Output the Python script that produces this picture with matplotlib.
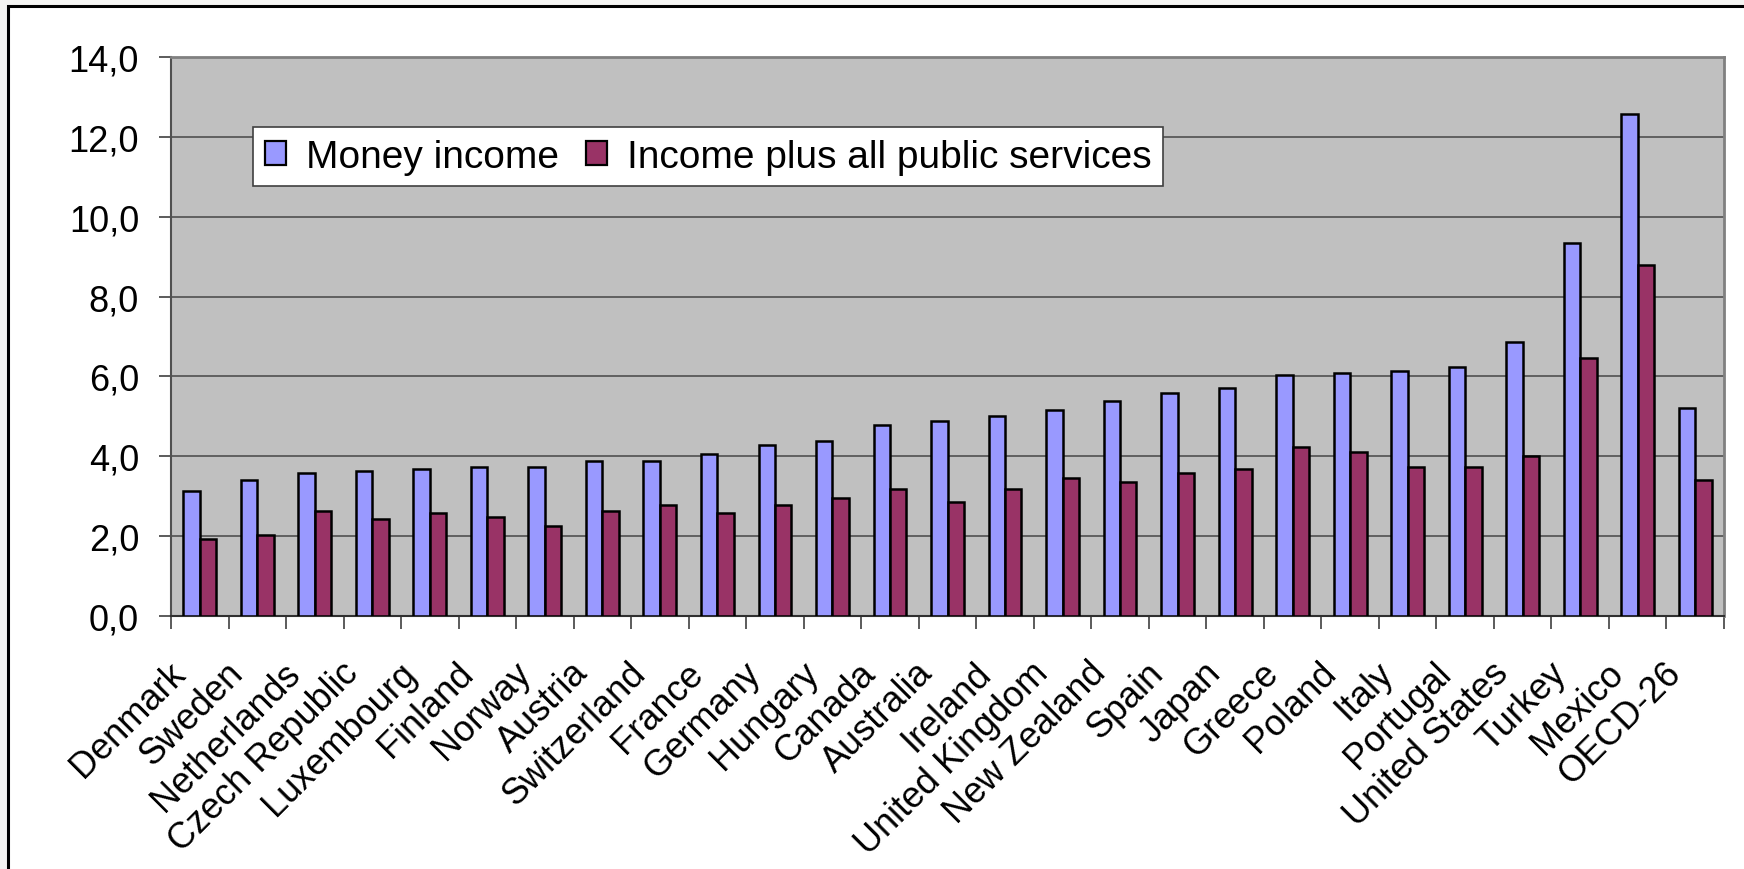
import numpy as np
import matplotlib
matplotlib.use("Agg")
import matplotlib.pyplot as plt
from matplotlib.patches import Rectangle, Patch
from matplotlib.transforms import ScaledTranslation

plt.rcParams["font.family"] = ["Liberation Sans", "DejaVu Sans"]

# Inégalités de revenu par pays (ratio), revenu monétaire vs revenu + services publics
countries = ["Denmark", "Sweden", "Netherlands", "Czech Republic", "Luxembourg",
             "Finland", "Norway", "Austria", "Switzerland", "France", "Germany",
             "Hungary", "Canada", "Australia", "Ireland", "United Kingdom",
             "New Zealand", "Spain", "Japan", "Greece", "Poland", "Italy",
             "Portugal", "United States", "Turkey", "Mexico", "OECD-26"]
money_income = [3.13, 3.40, 3.58, 3.63, 3.68, 3.73, 3.73, 3.89, 3.89, 4.06, 4.28,
                4.38, 4.78, 4.88, 5.00, 5.16, 5.38, 5.59, 5.71, 6.03, 6.08, 6.14,
                6.24, 6.85, 9.33, 12.56, 5.21]
income_plus_services = [1.92, 2.03, 2.64, 2.43, 2.58, 2.47, 2.25, 2.64, 2.79, 2.58,
                        2.79, 2.96, 3.18, 2.85, 3.18, 3.46, 3.35, 3.57, 3.67, 4.23,
                        4.11, 3.73, 3.73, 4.00, 6.47, 8.78, 3.40]
y_ticks = [0, 2, 4, 6, 8, 10, 12, 14]

W, H = 1744, 870
fig = plt.figure(figsize=(W / 100, H / 100), dpi=100)
fig.patch.set_facecolor("#f4f4f2")

# cadre blanc autour du graphique
fig.add_artist(Rectangle((8 / W, -0.1), 1.2, 1 - 7 / H + 0.1, transform=fig.transFigure,
                         facecolor="white", edgecolor="black", linewidth=2.2, zorder=-1))

ax = fig.add_axes([171 / W, 1 - 617 / H, (1724 - 171) / W, (617 - 58) / H])
ax.set_facecolor("#c0c0c0")

x = np.arange(len(countries))
w = 1 / 3.5
ax.bar(x - w / 2, money_income, w, color="#9999ff", edgecolor="black", linewidth=1.8, zorder=3)
ax.bar(x + w / 2, income_plus_services, w, color="#993366", edgecolor="black", linewidth=1.8, zorder=3)

ax.set_xlim(-0.5, len(countries) - 0.5)
ax.set_ylim(0, 14)

ax.set_yticks(y_ticks)
ax.set_yticklabels([f"{v:.1f}".replace(".", ",") for v in y_ticks], fontsize=26)
ax.yaxis.grid(True, color="#606060", linewidth=1.4, zorder=1)
ax.set_axisbelow(True)
ax.tick_params(axis="y", length=9, width=1.2, color="#404040", pad=14)

ax.set_xticks(x)
ax.set_xticklabels(countries, fontsize=26, rotation=45, ha="right", va="top",
                   rotation_mode="anchor")
ax.set_xticks(np.arange(len(countries) + 1) - 0.5, minor=True)
ax.tick_params(axis="x", which="major", length=0, pad=28)
ax.tick_params(axis="x", which="minor", length=9, width=1.2, color="#404040")
shift = ScaledTranslation(-32 / 100, 0, fig.dpi_scale_trans)
for lab in ax.get_xticklabels():
    lab.set_transform(lab.get_transform() + shift)

for side in ["top", "right"]:
    ax.spines[side].set_color("#808080")
    ax.spines[side].set_linewidth(2)
ax.spines["left"].set_color("#505050")
ax.spines["left"].set_linewidth(1.5)
ax.spines["bottom"].set_color("#303030")
ax.spines["bottom"].set_linewidth(1.5)

handles = [Patch(facecolor="#9999ff", edgecolor="black", linewidth=1.6),
           Patch(facecolor="#993366", edgecolor="black", linewidth=1.6)]
leg = ax.legend(handles, ["Money income", "Income plus all public services"],
                ncol=2, loc="upper left", bbox_to_anchor=(253 / W, 1 - 128 / H),
                bbox_transform=fig.transFigure, borderaxespad=0, fontsize=28,
                frameon=True, fancybox=False, framealpha=1, edgecolor="#404040",
                handlelength=0.55, handleheight=0.55, handletextpad=0.5,
                columnspacing=0.7, borderpad=0.3)
leg.get_frame().set_linewidth(1.2)
leg.set_zorder(5)

plt.savefig("out.png", dpi=100, facecolor=fig.get_facecolor())
